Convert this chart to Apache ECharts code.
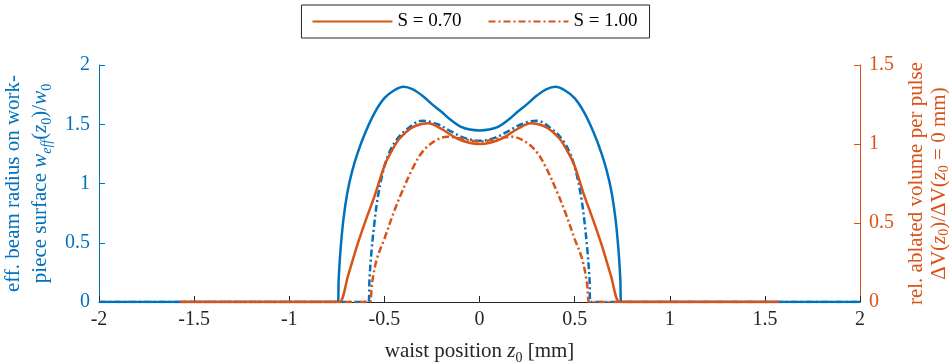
<!DOCTYPE html>
<html>
<head>
<meta charset="utf-8">
<script src="https://cdn.jsdelivr.net/npm/echarts@6/dist/echarts.min.js"></script>
<style>
  html, body { margin: 0; padding: 0; background: #fff; }
  #chart { width: 949px; height: 362px; }
</style>
</head>
<body>
<div id="chart"></div>
<script>
// waist position z0 [mm]
const blueSolidX = [-2, -0.78, -0.745, -0.74, -0.73, -0.715, -0.695, -0.67, -0.64, -0.6, -0.55, -0.5, -0.45, -0.4, -0.35, -0.3, -0.25, -0.2, -0.15, -0.1, -0.05, 0,
  0.05, 0.1, 0.15, 0.2, 0.25, 0.3, 0.35, 0.4, 0.45, 0.5, 0.55, 0.6, 0.64, 0.67, 0.695, 0.715, 0.73, 0.74, 0.745, 0.78, 2];
const blueSolidY = [0, 0, 0, 0.2, 0.45, 0.7, 0.92, 1.1, 1.26, 1.43, 1.6, 1.72, 1.785, 1.817, 1.795, 1.74, 1.67, 1.605, 1.535, 1.48, 1.455, 1.448,
  1.455, 1.48, 1.535, 1.605, 1.67, 1.74, 1.795, 1.817, 1.785, 1.72, 1.6, 1.43, 1.26, 1.1, 0.92, 0.7, 0.45, 0.2, 0, 0, 0];

const blueDashX = [-2, -0.62, -0.584, -0.578, -0.568, -0.553, -0.535, -0.51, -0.48, -0.44, -0.38, -0.3, -0.22, -0.15, -0.08, 0,
  0.08, 0.15, 0.22, 0.3, 0.38, 0.44, 0.48, 0.51, 0.535, 0.553, 0.568, 0.578, 0.584, 0.62, 2];
const blueDashY = [0, 0, 0, 0.2, 0.42, 0.66, 0.88, 1.08, 1.24, 1.36, 1.46, 1.53, 1.5, 1.44, 1.385, 1.36,
  1.385, 1.44, 1.5, 1.53, 1.46, 1.36, 1.24, 1.08, 0.88, 0.66, 0.42, 0.2, 0, 0, 0];

// right axis: rel. ablated volume
const orangeSolidX = [-1.575, -0.77, -0.737, -0.69, -0.645, -0.6, -0.549, -0.497, -0.455, -0.42, -0.36, -0.3, -0.27, -0.2, -0.12, -0.06, 0,
  0.06, 0.12, 0.2, 0.27, 0.3, 0.36, 0.42, 0.455, 0.497, 0.549, 0.6, 0.645, 0.69, 0.737, 0.77, 1.575];
const orangeSolidY = [0, 0, 0, 0.17, 0.35, 0.51, 0.68, 0.87, 0.97, 1.035, 1.1, 1.128, 1.131, 1.095, 1.036, 1.01, 1.0,
  1.01, 1.036, 1.095, 1.131, 1.128, 1.1, 1.035, 0.97, 0.87, 0.68, 0.51, 0.35, 0.17, 0, 0, 0];

const orangeDashX = [-1.575, -0.61, -0.578, -0.565, -0.54, -0.5, -0.45, -0.41, -0.35, -0.3, -0.24, -0.17, -0.1, 0,
  0.1, 0.17, 0.24, 0.3, 0.35, 0.41, 0.45, 0.5, 0.54, 0.565, 0.578, 0.61, 1.575];
const orangeDashY = [0, 0, 0, 0.12, 0.27, 0.4, 0.57, 0.69, 0.85, 0.95, 1.015, 1.046, 1.035, 1.015,
  1.035, 1.046, 1.015, 0.95, 0.85, 0.69, 0.57, 0.4, 0.27, 0.12, 0, 0, 0];

const legendNames = ['S = 0.70', 'S = 1.00'];

const blue = '#0072BD';
const orange = '#D95319';
const dark = '#262626';
const font = 'Liberation Serif';

const pairs = (xs, ys) => xs.map((x, i) => [x, ys[i]]);

const chart = echarts.init(document.getElementById('chart'));

const richFor = (lh) => ({
  it: { fontStyle: 'italic', fontSize: 21, fontFamily: font, lineHeight: lh },
  sub: { fontStyle: 'italic', fontSize: 14, fontFamily: font, verticalAlign: 'bottom', lineHeight: lh },
  subr: { fontSize: 14, fontFamily: font, verticalAlign: 'bottom', lineHeight: lh }
});

const lineSeries = (name, xs, ys, axis, color, type) => ({
  name: name,
  type: 'line',
  yAxisIndex: axis,
  data: pairs(xs, ys),
  symbol: 'none',
  smooth: 0.35,
  lineStyle: { color: color, width: 2.5, type: type },
  itemStyle: { color: color }
});

const option = {
  animation: false,
  textStyle: { fontFamily: font },
  legend: {
    data: legendNames,
    top: 5,
    left: 'center',
    padding: [7, 12, 7, 10],
    borderColor: dark,
    borderWidth: 1,
    itemWidth: 80,
    itemHeight: 14,
    itemGap: 26,
    itemStyle: { opacity: 0 },
    textStyle: { fontFamily: font, fontSize: 19, color: '#000' }
  },
  grid: { left: 99, right: 89, top: 65, bottom: 60, outerBoundsMode: 'none' },
  xAxis: {
    type: 'value',
    min: -2,
    max: 2,
    interval: 0.5,
    name: 'waist position {it|z}{subr|0} [mm]',
    nameLocation: 'middle',
    nameGap: 36,
    nameTextStyle: { fontFamily: font, fontSize: 21, color: dark, rich: richFor(27) },
    axisLine: { onZero: false, lineStyle: { color: dark, width: 1 } },
    axisTick: { inside: true, length: 6, lineStyle: { color: dark } },
    axisLabel: { fontFamily: font, fontSize: 20, color: dark, margin: 8 },
    splitLine: { show: false }
  },
  yAxis: [
    {
      type: 'value',
      min: 0,
      max: 2,
      interval: 0.5,
      position: 'left',
      name: 'eff. beam radius on work-\npiece surface {it|w}{sub|eff}({it|z}{subr|0})/{it|w}{subr|0}',
      nameLocation: 'middle',
      nameRotate: 90,
      nameGap: 44,
      nameTextStyle: { fontFamily: font, fontSize: 21, color: blue, lineHeight: 27, rich: richFor(27) },
      axisLine: { show: true, onZero: false, lineStyle: { color: blue, width: 1 } },
      axisTick: { show: true, inside: true, length: 6, lineStyle: { color: blue } },
      axisLabel: { fontFamily: font, fontSize: 20, color: blue, margin: 9 },
      splitLine: { show: false }
    },
    {
      type: 'value',
      min: 0,
      max: 1.5,
      interval: 0.5,
      position: 'right',
      name: 'rel. ablated volume per pulse\nΔV({it|z}{subr|0})/ΔV({it|z}{subr|0} = 0 mm)',
      nameLocation: 'middle',
      nameRotate: 90,
      nameGap: 32,
      nameTextStyle: { fontFamily: font, fontSize: 21, color: orange, lineHeight: 23, rich: richFor(23) },
      axisLine: { show: true, onZero: false, lineStyle: { color: orange, width: 1 } },
      axisTick: { show: true, inside: true, length: 6, lineStyle: { color: orange } },
      axisLabel: { fontFamily: font, fontSize: 20, color: orange, margin: 9 },
      splitLine: { show: false }
    }
  ],
  series: [
    lineSeries('blue solid', blueSolidX, blueSolidY, 0, blue, 'solid'),
    lineSeries('blue dash', blueDashX, blueDashY, 0, blue, [7, 3, 2, 3]),
    lineSeries(legendNames[0], orangeSolidX, orangeSolidY, 1, orange, 'solid'),
    lineSeries(legendNames[1], orangeDashX, orangeDashY, 1, orange, [7, 3, 2, 3])
  ]
};

chart.setOption(option);
</script>
</body>
</html>
